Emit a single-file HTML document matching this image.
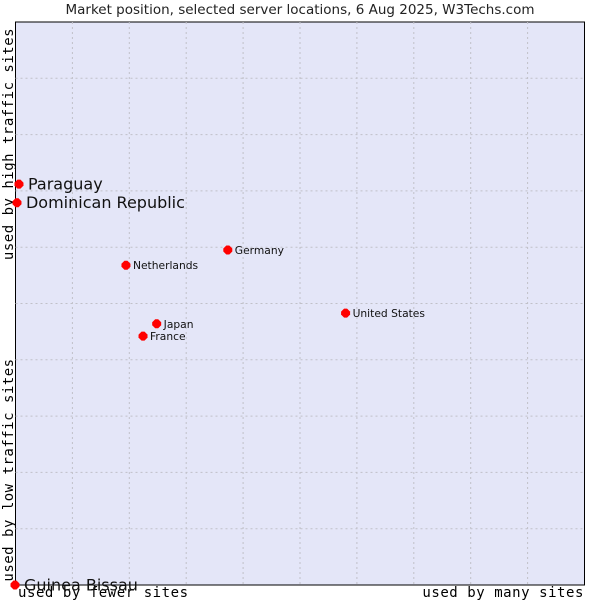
<!DOCTYPE html>
<html><head><meta charset="utf-8"><style>
body{margin:0;background:#fff}
svg{display:block}
</style></head><body>
<svg id="chart" width="600" height="600" xmlns="http://www.w3.org/2000/svg">
<rect x="0" y="0" width="600" height="600" fill="#fff"/>
<text x="300" y="14" text-anchor="middle" font-family="DejaVu Sans, sans-serif" font-size="13.5" fill="#222">Market position, selected server locations, 6 Aug 2025, W3Techs.com</text>
<rect x="15.5" y="22" width="569" height="563" fill="#e4e6f8" stroke="#000" stroke-width="1"/>
<g id="grid"></g>
<text transform="translate(13,144) rotate(-90)" text-anchor="middle" font-family="DejaVu Sans Mono, monospace" font-size="14" letter-spacing="0.5" fill="#000">used by high traffic sites</text>
<text transform="translate(13,470) rotate(-90)" text-anchor="middle" font-family="DejaVu Sans Mono, monospace" font-size="14" letter-spacing="0.5" fill="#000">used by low traffic sites</text>
<text x="18" y="597" font-family="DejaVu Sans Mono, monospace" font-size="14" letter-spacing="0.55" fill="#000">used by fewer sites</text>
<text x="584" y="597" text-anchor="end" font-family="DejaVu Sans Mono, monospace" font-size="14" letter-spacing="0.55" fill="#000">used by many sites</text>
<g id="points"></g>
</svg>
<script>
const names=["Paraguay","Dominican Republic","Netherlands","Germany","United States","Japan","France","Guinea Bissau"];
const xVals=[0.7,0.35,19.5,37.4,58.1,24.9,22.5,0];
const yVals=[71.2,67.9,56.8,59.5,48.3,46.4,44.2,0];
const bigLabel=[true,true,false,false,false,false,false,true];
const L=15.5,R=584.5,T=22,B=585;
const sx=v=>L+(R-L)*v/100-0.5;
const sy=v=>B-(B-T)*v/100;
const NS="http://www.w3.org/2000/svg";
const g=document.getElementById('grid');
for(let i=1;i<10;i++){
  const x=L+(R-L)*i/10;
  const l=document.createElementNS(NS,'line');
  
  
  l.setAttribute('x1',x);l.setAttribute('x2',x);l.setAttribute('y1',T);l.setAttribute('y2',B);
  l.setAttribute('stroke','#c0c0c8');l.setAttribute('stroke-dasharray','2,3');
  g.appendChild(l);
  const y=T+(B-T)*i/10;
  const h=document.createElementNS(NS,'line');
  
  
  h.setAttribute('x1',L);h.setAttribute('x2',R);h.setAttribute('y1',y);h.setAttribute('y2',y);
  h.setAttribute('stroke','#c0c0c8');h.setAttribute('stroke-dasharray','2,3');
  g.appendChild(h);
}
const p=document.getElementById('points');
names.forEach((n,i)=>{
  const x=sx(xVals[i]),y=sy(yVals[i]);
  const d=document.createElementNS(NS,'path');
  
  
  d.setAttribute('d',`M${x-4.5} ${y-1.5}L${x-1.5} ${y-4.5}L${x+1.5} ${y-4.5}L${x+4.5} ${y-1.5}L${x+4.5} ${y+1.5}L${x+1.5} ${y+4.5}L${x-1.5} ${y+4.5}L${x-4.5} ${y+1.5}Z`);
  d.setAttribute('fill','#f00');
  p.appendChild(d);
  const t=document.createElementNS(NS,'text');
  
  
  t.setAttribute('x',x+(bigLabel[i]?9:7));
  t.setAttribute('y',y+(bigLabel[i]?5.5:4));
  t.setAttribute('font-family','DejaVu Sans, sans-serif');
  t.setAttribute('font-size',bigLabel[i]?'16':'10.7');
  t.setAttribute('fill','#111');
  t.textContent=n;
  p.appendChild(t);
});
</script>
</body></html>
